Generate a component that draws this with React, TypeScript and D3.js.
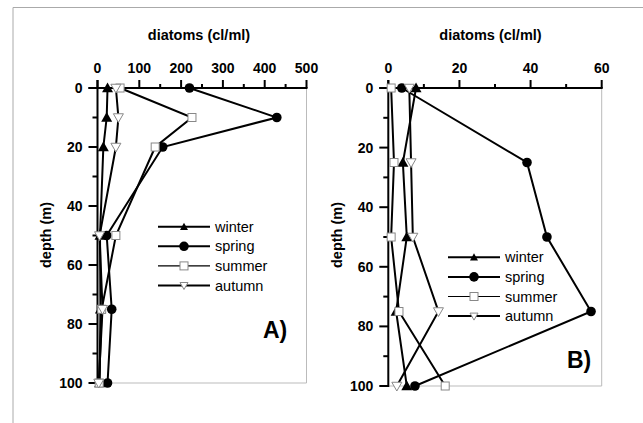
import React from "react";
import * as d3 from "d3";

const depthsA = [0, 10, 20, 50, 75, 100];
const winterA = [24, 22, 14, 6, 7, 5];
const springA = [220, 429, 156, 22, 34, 24];
const summerA = [54, 226, 138, 44, 10, 4];
const autumnA = [44, 50, 44, 5, 12, 3];

const depthsB = [0, 25, 50, 75, 100];
const winterB = [7.8, 4.1, 5.2, 2.2, 5.2];
const springB = [3.8, 39, 44.6, 57, 7.5];
const summerB = [0.8, 1.6, 0.8, 3.0, 16];
const autumnB = [5.9, 6.4, 6.9, 14.1, 2.4];

const seriesNames = ["winter", "spring", "summer", "autumn"];
const xTicksA = [0, 100, 200, 300, 400, 500];
const xTicksB = [0, 20, 40, 60];
const yTicks = [0, 20, 40, 60, 80, 100];

const FONT = "'Liberation Sans', Arial, sans-serif";

function Marker({ type, x, y }: { type: string; x: number; y: number }) {
  if (type === "winter") {
    const s = 5.5;
    return <path d={`M${x},${y - s}L${x + s},${y + s * 0.75}L${x - s},${y + s * 0.75}Z`} fill="#000" />;
  }
  if (type === "spring") return <circle cx={x} cy={y} r={4.8} fill="#000" />;
  if (type === "summer")
    return <rect x={x - 4} y={y - 4} width={8} height={8} fill="#fff" stroke="#888" strokeWidth={1} />;
  const s = 5;
  return (
    <path d={`M${x - s},${y - s * 0.75}L${x + s},${y - s * 0.75}L${x},${y + s}Z`} fill="#fff" stroke="#888" strokeWidth={1} />
  );
}

function LegendMarker({ type, x, y }: { type: string; x: number; y: number }) {
  if (type === "winter") {
    const s = 4;
    return <path d={`M${x},${y - s}L${x + s},${y + s * 0.8}L${x - s},${y + s * 0.8}Z`} fill="#000" />;
  }
  if (type === "spring") return <circle cx={x} cy={y} r={4.8} fill="#000" />;
  if (type === "summer")
    return <rect x={x - 4} y={y - 4} width={8} height={8} fill="#fff" stroke="#888" strokeWidth={1} />;
  const s = 4;
  return (
    <path d={`M${x - s},${y - s * 0.75}L${x + s},${y - s * 0.75}L${x},${y + s}Z`} fill="#fff" stroke="#888" strokeWidth={1} />
  );
}

type PanelProps = {
  left: number;
  right: number;
  top: number;
  bottom: number;
  xMax: number;
  xTicks: number[];
  depths: number[];
  data: number[][];
  titleX: number;
  ylabelX: number;
  legendX: number;
  legendY: number;
  letter: string;
  letterX: number;
  letterY: number;
};

function Panel(p: PanelProps) {
  const x = d3.scaleLinear().domain([0, p.xMax]).range([p.left, p.right]);
  const y = d3.scaleLinear().domain([0, 100]).range([p.top, p.bottom]);
  const line = d3
    .line<[number, number]>()
    .x((d) => x(d[0]))
    .y((d) => y(d[1]));
  const step = p.xTicks[1] - p.xTicks[0];
  const minorX = p.xTicks.slice(0, -1).map((t) => t + step / 2);
  const minorY = yTicks.slice(0, -1).map((t) => t + 10);
  return (
    <g>
      {/* gray frame */}
      <line x1={p.right} y1={p.top} x2={p.right} y2={p.bottom} stroke="#bbb" strokeWidth={1} />
      <line x1={p.left} y1={p.bottom} x2={p.right} y2={p.bottom} stroke="#bbb" strokeWidth={1} />
      {/* title */}
      <text x={p.titleX} y={40} textAnchor="middle" fontFamily={FONT} fontWeight="bold" fontSize={14.5}>
        diatoms (cl/ml)
      </text>
      {/* x axis (top) */}
      <line x1={p.left - 9} y1={p.top} x2={p.right + 1} y2={p.top} stroke="#000" strokeWidth={2} />
      {p.xTicks.map((t) => (
        <g key={"xt" + t}>
          <line x1={x(t)} x2={x(t)} y1={p.top} y2={p.top - 8} stroke="#000" strokeWidth={2} />
          <text x={x(t)} y={73} textAnchor="middle" fontFamily={FONT} fontWeight="bold" fontSize={14}>
            {t}
          </text>
        </g>
      ))}
      {minorX.map((t) => (
        <line key={"xm" + t} x1={x(t)} x2={x(t)} y1={p.top} y2={p.top - 4} stroke="#000" strokeWidth={2} />
      ))}
      {/* y axis */}
      <line x1={p.left} y1={p.top - 8} x2={p.left} y2={p.bottom + 1} stroke="#000" strokeWidth={2} />
      {yTicks.map((t) => (
        <g key={"yt" + t}>
          <line x1={p.left - 9} x2={p.left} y1={y(t)} y2={y(t)} stroke="#000" strokeWidth={2} />
          <text x={p.left - 15} y={y(t) + 5} textAnchor="end" fontFamily={FONT} fontWeight="bold" fontSize={14}>
            {t}
          </text>
        </g>
      ))}
      {minorY.map((t) => (
        <line key={"ym" + t} x1={p.left - 5} x2={p.left} y1={y(t)} y2={y(t)} stroke="#000" strokeWidth={2} />
      ))}
      <text
        transform={`translate(${p.ylabelX},235) rotate(-90)`}
        textAnchor="middle"
        fontFamily={FONT}
        fontWeight="bold"
        fontSize={14.5}
        dy={5}
      >
        depth (m)
      </text>
      {/* series lines */}
      {p.data.map((vals, i) => (
        <path
          key={"l" + i}
          d={line(vals.map((v, j) => [v, p.depths[j]]))!}
          fill="none"
          stroke="#000"
          strokeWidth={2}
        />
      ))}
      {p.data.map((vals, i) =>
        vals.map((v, j) => <Marker key={`m${i}-${j}`} type={seriesNames[i]} x={x(v)} y={y(p.depths[j])} />)
      )}
      {/* legend */}
      {seriesNames.map((n, i) => {
        const ly = p.legendY + i * 19.6;
        return (
          <g key={"lg" + n}>
            <line
              x1={p.legendX}
              x2={p.legendX + 52}
              y1={ly}
              y2={ly}
              stroke="#000"
              strokeWidth={n === "summer" ? 1.2 : 2}
            />
            <LegendMarker type={n} x={p.legendX + 26} y={ly} />
            <text x={p.legendX + 57} y={ly + 5} fontFamily={FONT} fontSize={14.5}>
              {n}
            </text>
          </g>
        );
      })}
      <text x={p.letterX} y={p.letterY + 8} fontFamily={FONT} fontWeight="bold" fontSize={23}>
        {p.letter}
      </text>
    </g>
  );
}

export default function App() {
  return (
    <svg
      width={643}
      height={423}
      style={{ position: "absolute", left: 0, top: 0, background: "#fff" }}
    >
      <rect x={0} y={0} width={643} height={423} fill="#fff" />
      <line x1={13} y1={7.5} x2={643} y2={7.5} stroke="#aaa" strokeWidth={1} />
      <line x1={13} y1={7.5} x2={13} y2={423} stroke="#aaa" strokeWidth={1} />
      <Panel
        left={97.5}
        right={306.5}
        top={88}
        bottom={383}
        xMax={500}
        xTicks={xTicksA}
        depths={depthsA}
        data={[winterA, springA, summerA, autumnA]}
        titleX={199}
        ylabelX={46}
        legendX={158}
        legendY={226.7}
        letter="A)"
        letterX={263}
        letterY={330}
      />
      <Panel
        left={388.3}
        right={601.7}
        top={88}
        bottom={386}
        xMax={60}
        xTicks={xTicksB}
        depths={depthsB}
        data={[winterB, springB, summerB, autumnB]}
        titleX={490.5}
        ylabelX={336.5}
        legendX={448}
        legendY={257.3}
        letter="B)"
        letterX={567}
        letterY={360}
      />
    </svg>
  );
}
